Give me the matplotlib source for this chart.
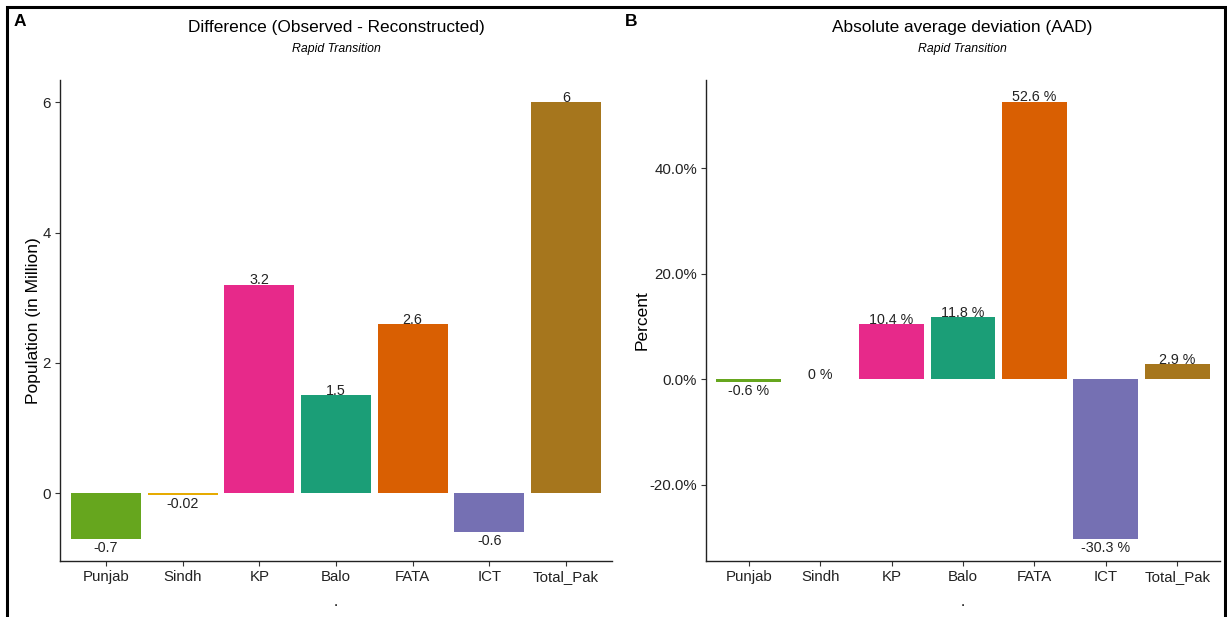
import matplotlib.pyplot as plt
from matplotlib.patches import Rectangle
from matplotlib.ticker import FuncFormatter

plt.rcParams['font.family'] = ['Liberation Sans', 'DejaVu Sans']

# data
regions = ['Punjab', 'Sindh', 'KP', 'Balo', 'FATA', 'ICT', 'Total_Pak']
diff_million = [-0.7, -0.02, 3.2, 1.5, 2.6, -0.6, 6]
aad_percent = [-0.6, 0, 10.4, 11.8, 52.6, -30.3, 2.9]
diff_labels = ['-0.7', '-0.02', '3.2', '1.5', '2.6', '-0.6', '6']
aad_labels = ['-0.6 %', '0 %', '10.4 %', '11.8 %', '52.6 %', '-30.3 %', '2.9 %']

# Dark2 colours, as ggplot assigns them to the alphabetical factor levels
colors = ['#66A61E', '#E6AB02', '#E7298A', '#1B9E77', '#D95F02', '#7570B3', '#A6761D']

fig = plt.figure(figsize=(12.27, 6.17), dpi=100)
ax1 = fig.add_axes([0.0489, 0.0908, 0.4499, 0.7795])
ax2 = fig.add_axes([0.5754, 0.0908, 0.4189, 0.7795])


def style(ax):
    for s in ['top', 'right']:
        ax.spines[s].set_visible(False)
    for s in ['left', 'bottom']:
        ax.spines[s].set_color('#222222')
        ax.spines[s].set_linewidth(1.0)
    ax.tick_params(axis='both', direction='out', length=3.5, width=0.8,
                   color='#333333', labelsize=10.8, labelcolor='#222222', pad=3)
    ax.set_xlim(-0.6, 6.6)
    ax.set_xticks(range(len(regions)))
    ax.set_xticklabels(regions)
    ax.set_xlabel('.', fontsize=11, labelpad=8)


def bar_labels(ax, values, labels):
    for i, (v, lab) in enumerate(zip(values, labels)):
        if v >= 0:
            ax.annotate(lab, (i, v), xytext=(0, 3), textcoords='offset points',
                        ha='center', va='center', fontsize=10.3, color='#222222')
        else:
            ax.annotate(lab, (i, v), xytext=(0, -1.5), textcoords='offset points',
                        ha='center', va='top', fontsize=10.3, color='#222222')


# panel A
ax1.bar(range(len(regions)), diff_million, width=0.91, color=colors)
ax1.set_ylim(-1.04, 6.34)
ax1.set_yticks([0, 2, 4, 6])
style(ax1)
bar_labels(ax1, diff_million, diff_labels)
ax1.set_ylabel('Population (in Million)', fontsize=12.5, labelpad=1)
fig.text(0.2738, 0.955, 'Difference (Observed - Reconstructed)', ha='center', va='center', fontsize=12.4)
fig.text(0.2738, 0.920, 'Rapid Transition', ha='center', va='center', fontsize=8.8, style='italic')
fig.text(0.011, 0.965, 'A', ha='left', va='center', fontsize=12.5, fontweight='bold')

# panel B
ax2.bar(range(len(regions)), aad_percent, width=0.91, color=colors)
ax2.set_ylim(-34.5, 56.7)
ax2.set_yticks([-20, 0, 20, 40])
ax2.yaxis.set_major_formatter(FuncFormatter(lambda v, p: f'{v:.1f}%'))
style(ax2)
bar_labels(ax2, aad_percent, aad_labels)
ax2.set_ylabel('Percent', fontsize=12.5, labelpad=0)
fig.text(0.7845, 0.955, 'Absolute average deviation (AAD)', ha='center', va='center', fontsize=12.4)
fig.text(0.7845, 0.920, 'Rapid Transition', ha='center', va='center', fontsize=8.8, style='italic')
fig.text(0.5095, 0.965, 'B', ha='left', va='center', fontsize=12.5, fontweight='bold')

# outer frame
fig.patches.append(Rectangle((0.0057, -0.02), 0.9927, 1.0087, transform=fig.transFigure,
                             fill=False, edgecolor='black', linewidth=2.2, clip_on=False))

fig.savefig('out.png', dpi=100)
